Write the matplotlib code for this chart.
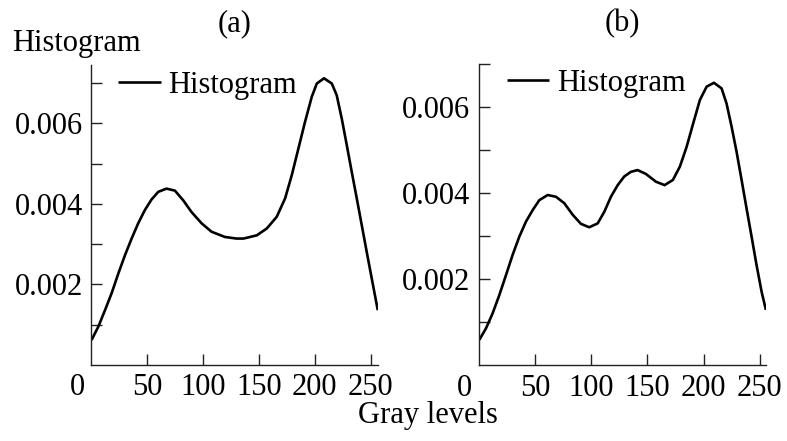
import matplotlib
matplotlib.use("Agg")
import matplotlib.pyplot as plt
import matplotlib.transforms as mtransforms

plt.rcParams['font.family'] = ['Liberation Serif', 'DejaVu Serif']

# Panel (a) histogram curve (gray level, density x 1e-3)
gray_a = [0.5, 6.5, 12.5, 18.4, 24.4, 30.4, 36.3, 42.2, 48.2, 54.1, 60.1, 67.5,
          75.0, 82.4, 89.8, 98.8, 107.7, 119.6, 130.0, 136.3, 148.2, 157.1, 166.0,
          173.5, 179.5, 185.4, 191.3, 197.3, 201.8, 208.3, 215.2, 219.6, 224.1,
          228.6, 233.0, 237.5, 242.0, 246.4, 250.9, 256.3]
hist_a = [0.62, 0.95, 1.36, 1.78, 2.27, 2.73, 3.14, 3.52, 3.85, 4.11, 4.30, 4.38,
          4.33, 4.09, 3.80, 3.52, 3.31, 3.18, 3.14, 3.14, 3.22, 3.39, 3.68,
          4.14, 4.72, 5.38, 6.04, 6.66, 6.99, 7.12, 6.99, 6.70, 6.12,
          5.46, 4.80, 4.14, 3.47, 2.81, 2.15, 1.36]

# Panel (b) histogram curve
gray_b = [0.5, 6.5, 12.4, 18.3, 24.3, 30.2, 36.1, 42.0, 48.0, 53.9, 61.3, 68.7,
          76.1, 83.6, 90.9, 98.3, 105.8, 111.7, 117.6, 123.6, 129.4, 135.4, 141.3,
          148.7, 157.6, 165.3, 172.7, 178.9, 184.9, 190.8, 196.7, 202.7, 209.2,
          216.0, 220.4, 224.9, 229.3, 233.8, 238.2, 242.7, 247.1, 251.6, 255.4]
hist_b = [0.59, 0.86, 1.21, 1.63, 2.10, 2.57, 2.99, 3.34, 3.61, 3.84, 3.96, 3.92,
          3.77, 3.50, 3.29, 3.21, 3.30, 3.57, 3.92, 4.19, 4.39, 4.50, 4.54,
          4.45, 4.27, 4.19, 4.31, 4.62, 5.08, 5.63, 6.17, 6.48, 6.57,
          6.44, 6.09, 5.55, 4.97, 4.31, 3.65, 2.99, 2.33, 1.71, 1.29]

x_ticks = [0, 50, 100, 150, 200, 250]
y_major = [0.002, 0.004, 0.006]
y_minor = [0.001, 0.003, 0.005, 0.007]
y_tick_labels = ['0.002', '0.004', '0.006']
panel_titles = ['(a)', '(b)']
legend_label = 'Histogram'

W, H = 787, 441
fig = plt.figure(figsize=(W / 100, H / 100), dpi=100)

FS = 22
positions = [
    (91 / W, (H - 365) / H, 287 / W, 300 / H),
    (478.7 / W, (H - 365.3) / H, 287.3 / W, 301 / H),
]
xmax = [256.5, 255.5]
ylims = [0.00745, 0.00700]
legend_anchor = [(0.094, 0.933), (0.097, 0.937)]
title_x = [235, 622]
data = [(gray_a, hist_a), (gray_b, hist_b)]

for i, pos in enumerate(positions):
    ax = fig.add_axes(pos)
    gx, gy = data[i]
    ax.plot(gx, [v * 1e-3 for v in gy], color='black', lw=1.9, label=legend_label,
            solid_joinstyle='round', solid_capstyle='butt')
    ax.set_xlim(0, xmax[i])
    ax.set_ylim(0, ylims[i])
    for s in ['top', 'right']:
        ax.spines[s].set_visible(False)
    for s in ['left', 'bottom']:
        ax.spines[s].set_linewidth(1.0)
        ax.spines[s].set_color('#222222')
    ax.set_xticks(x_ticks)
    ax.set_xticklabels([str(t) for t in x_ticks])
    ax.set_yticks(y_major)
    ax.set_yticklabels(y_tick_labels)
    ax.set_yticks(y_minor, minor=True)
    ax.tick_params(axis='both', which='both', direction='in', length=8, width=1.0,
                   color='#222222', labelsize=FS)
    ax.tick_params(axis='x', pad=6)
    ax.tick_params(axis='y', pad=6)
    ax.xaxis.get_major_ticks()[0].tick1line.set_visible(False)
    # the "0" label sits left of the origin
    lbl0 = ax.xaxis.get_majorticklabels()[0]
    lbl0.set_transform(lbl0.get_transform() +
                       mtransforms.ScaledTranslation(-14 / 100, 0, fig.dpi_scale_trans))
    ax.legend(loc='center left', bbox_to_anchor=legend_anchor[i], frameon=False,
              fontsize=FS, handlelength=1.4, handletextpad=0.25,
              borderpad=0, borderaxespad=0)
    fig.text(title_x[i] / W, 1 - 24 / H, panel_titles[i],
             ha='center', va='center', fontsize=FS)

fig.text(12 / W, 1 - 44 / H, 'Histogram', ha='left', va='center', fontsize=FS)
fig.text(428 / W, 1 - 415 / H, 'Gray levels', ha='center', va='center', fontsize=FS)

fig.savefig('out.png', dpi=100)
